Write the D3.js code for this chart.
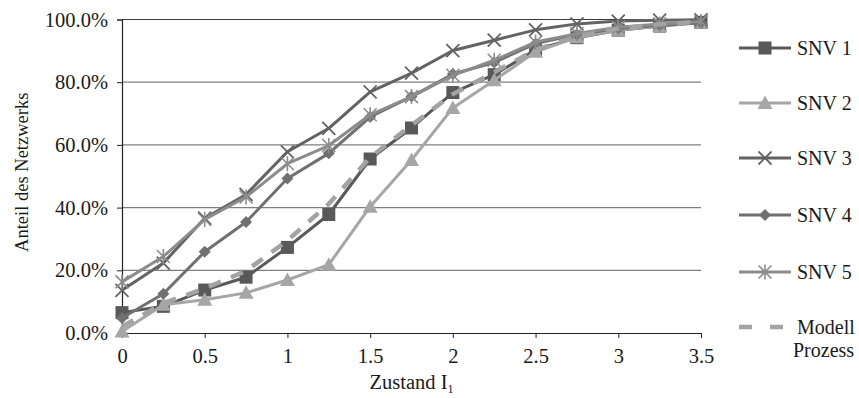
<!DOCTYPE html>
<html>
<head>
<meta charset="utf-8">
<script src="https://cdn.jsdelivr.net/npm/d3@7"></script>
<style>
  body { margin: 0; background: #fff; }
  text { font-family: "Liberation Serif", "Times New Roman", serif; fill: #1a1a1a; }
</style>
</head>
<body>
<div id="chart"></div>
<script>
// x positions (Zustand I1)
const xValues = [0, 0.25, 0.5, 0.75, 1, 1.25, 1.5, 1.75, 2, 2.25, 2.5, 2.75, 3, 3.25, 3.5];

// share of network, in %
const snv1 = [6.5, 8.5, 13.7, 17.8, 27.3, 37.8, 55.5, 65.4, 76.7, 82.4, 90.3, 94.2, 96.6, 97.9, 99.1];
const snv2 = [0.5, 9.0, 10.6, 12.8, 16.9, 21.8, 40.3, 55.2, 71.8, 80.6, 89.7, 94.3, 96.6, 97.9, 99.0];
const snv3 = [13.6, 22.3, 36.6, 44.2, 57.8, 65.3, 76.9, 82.9, 90.1, 93.4, 96.7, 98.6, 99.5, 99.8, 99.9];
const snv4 = [4.8, 12.5, 25.9, 35.4, 49.3, 57.3, 68.9, 75.4, 82.6, 86.3, 92.3, 95.2, 97.1, 98.2, 99.0];
const snv5 = [16.3, 24.4, 36.2, 43.4, 54.0, 59.8, 69.6, 75.4, 82.2, 87.0, 92.8, 95.5, 97.5, 98.6, 99.4];
const modell = [2.0, 9.5, 14.2, 19.8, 29.5, 41.2, 56.0, 66.3, 76.2, 83.2, 90.3, 94.6, 97.1, 98.5, 99.3];

const yTicks = [0, 20, 40, 60, 80, 100];
const xTicks = [0, 0.5, 1, 1.5, 2, 2.5, 3, 3.5];

const series = [
  { name: "SNV 1", values: snv1, color: "#595959", marker: "square" },
  { name: "SNV 2", values: snv2, color: "#a6a6a6", marker: "triangle" },
  { name: "SNV 3", values: snv3, color: "#636363", marker: "cross" },
  { name: "SNV 4", values: snv4, color: "#707070", marker: "diamond" },
  { name: "SNV 5", values: snv5, color: "#8c8c8c", marker: "star" },
  { name: "Modell", values: modell, color: "#a3a3a3", marker: "dash" }
];

const width = 859, height = 398;
const margin = { left: 122, right: 158, top: 19.5, bottom: 65 };

const svg = d3.select("#chart").append("svg")
  .attr("width", width)
  .attr("height", height);

const x = d3.scaleLinear().domain([0, 3.5]).range([margin.left, width - margin.right]);
const y = d3.scaleLinear().domain([0, 100]).range([height - margin.bottom, margin.top]);

// horizontal gridlines
svg.append("g")
  .selectAll("line")
  .data(yTicks.filter(d => d > 0))
  .enter().append("line")
    .attr("x1", x(0))
    .attr("x2", x(3.5))
    .attr("y1", d => y(d))
    .attr("y2", d => y(d))
    .style("stroke", d => d === 100 ? "#3a3a3a" : "#7f7f7f")
    .style("stroke-width", 1.2);

// y axis
const yAxis = svg.append("g")
  .attr("transform", `translate(${x(0)},0)`)
  .call(d3.axisLeft(y).tickValues(yTicks).tickFormat(d => d.toFixed(1) + "%").tickSize(5).tickPadding(9));
yAxis.select(".domain").style("stroke", "#222").style("stroke-width", 1.2);
yAxis.selectAll(".tick line").style("stroke", "#222");
yAxis.selectAll("text").style("font-size", "20.5px").style("font-family", "Liberation Serif").attr("fill", "#1a1a1a");

// x axis
const xAxis = svg.append("g")
  .attr("transform", `translate(0,${y(0)})`)
  .call(d3.axisBottom(x).tickValues(xTicks).tickFormat(d => String(d)).tickSize(5).tickSizeOuter(0).tickPadding(10));
xAxis.select(".domain").style("stroke", "#222").style("stroke-width", 1.2);
xAxis.selectAll(".tick line").style("stroke", "#222");
xAxis.selectAll("text").style("font-size", "20.5px").style("font-family", "Liberation Serif").attr("fill", "#1a1a1a");

// axis titles
svg.append("text")
  .attr("transform", `translate(28,${(y(0) + y(100)) / 2 - 4}) rotate(-90)`)
  .attr("text-anchor", "middle")
  .style("font-size", "18.5px")
  .text("Anteil des Netzwerks");

const xt = svg.append("text")
  .attr("x", (x(0) + x(3.5)) / 2)
  .attr("y", 389)
  .attr("text-anchor", "middle")
  .style("font-size", "20.5px");
xt.append("tspan").text("Zustand I");
xt.append("tspan").attr("dy", 4).style("font-size", "12px").text("1");

const line = d3.line().x((d, i) => x(xValues[i])).y(d => y(d));

function drawMarker(g, type, color, cx, cy) {
  if (type === "square") {
    g.append("rect").attr("x", cx - 6.5).attr("y", cy - 6.5).attr("width", 13).attr("height", 13)
      .attr("fill", color);
  } else if (type === "triangle") {
    g.append("path").attr("d", `M${cx},${cy - 7.5}L${cx + 7.5},${cy + 6}L${cx - 7.5},${cy + 6}Z`)
      .attr("fill", color);
  } else if (type === "diamond") {
    g.append("path").attr("d", `M${cx},${cy - 6}L${cx + 6},${cy}L${cx},${cy + 6}L${cx - 6},${cy}Z`)
      .attr("fill", color);
  } else if (type === "cross") {
    const r = 6.5;
    g.append("path").attr("d", `M${cx - r},${cy - r}L${cx + r},${cy + r}M${cx - r},${cy + r}L${cx + r},${cy - r}`)
      .attr("stroke", color).attr("stroke-width", 1.8).attr("fill", "none");
  } else if (type === "star") {
    const r = 6.5;
    g.append("path").attr("d", `M${cx - r},${cy - r}L${cx + r},${cy + r}M${cx - r},${cy + r}L${cx + r},${cy - r}M${cx},${cy - r - 1}L${cx},${cy + r + 1}`)
      .attr("stroke", color).attr("stroke-width", 1.6).attr("fill", "none");
  }
}

// series lines and markers
series.forEach(s => {
  const g = svg.append("g").attr("class", "series");
  g.append("path")
    .datum(s.values)
    .attr("d", line)
    .attr("fill", "none")
    .attr("stroke", s.color)
    .attr("stroke-width", s.marker === "dash" ? 4.5 : 3)
    .attr("stroke-dasharray", s.marker === "dash" ? "13,11" : null)
    .attr("stroke-linejoin", "round");
  if (s.marker !== "dash") {
    s.values.forEach((v, i) => drawMarker(g, s.marker, s.color, x(xValues[i]), y(v)));
  }
});

// legend
const legendY = [48, 103, 158, 215, 272, 327];
const legend = svg.append("g");
series.forEach((s, i) => {
  const ly = legendY[i];
  legend.append("line")
    .attr("x1", 739).attr("x2", 791)
    .attr("y1", ly).attr("y2", ly)
    .attr("stroke", s.color)
    .attr("stroke-width", s.marker === "dash" ? 4.5 : 3)
    .attr("stroke-dasharray", s.marker === "dash" ? "13,18" : null);
  drawMarker(legend, s.marker, s.color, 765, ly);
  const t = legend.append("text")
    .attr("x", 797)
    .attr("y", ly + 6.5)
    .style("font-size", "20px");
  if (s.marker === "dash") {
    t.text("Modell");
    legend.append("text").attr("x", 793).attr("y", ly + 30).style("font-size", "20px").text("Prozess");
  } else {
    t.text(s.name);
  }
});
</script>
</body>
</html>
